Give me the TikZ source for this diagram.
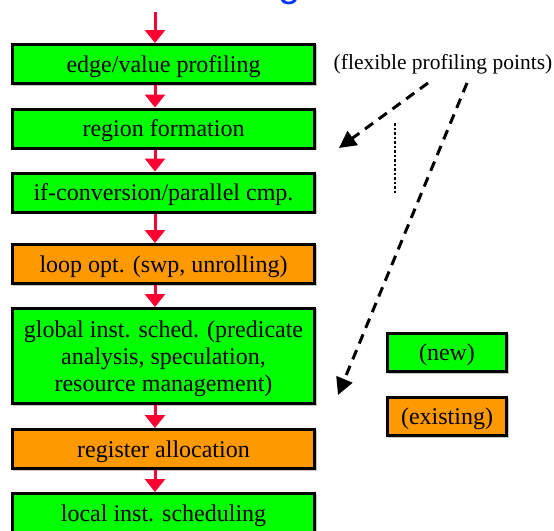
\documentclass[tikz,border=0pt]{standalone}
\usepackage{fontspec}
\setmainfont{Liberation Serif}
\newfontfamily\titlefont{Liberation Sans}
\usetikzlibrary{arrows.meta}
\definecolor{newgreen}{RGB}{0,255,0}
\definecolor{oldorange}{RGB}{255,153,0}
\definecolor{flowred}{RGB}{255,0,51}
\definecolor{titleblue}{RGB}{0,51,255}
\tikzset{
  stage/.style={draw=black, line width=3pt, rectangle, inner sep=0pt,
    minimum width=302pt, minimum height=39pt, align=center,
    text height=21pt, text depth=5pt,
    font=\fontsize{24}{27}\selectfont,
    preaction={draw=black!22, line width=1.5pt, transform canvas={shift={(1.5pt,-1.5pt)}}}},
  newstage/.style={stage, fill=newgreen},
  oldstage/.style={stage, fill=oldorange},
  legendbox/.style={stage, minimum width=119pt, minimum height=38pt},
  flow/.style={draw=flowred, line width=3pt, -{Triangle[length=13pt,width=20pt]}},
  profarrow/.style={draw=black, line width=3pt, dash pattern=on 10pt off 7pt,
    -{Triangle[length=17pt,width=17pt]}},
}
\begin{document}
\begin{tikzpicture}[x=1pt, y=-1pt]
\useasboundingbox (0,0) rectangle (554,530);
\clip (0,0) rectangle (554,530);

% tail of the slide title, cut by the top edge
\node[anchor=base, text=titleblue, font=\titlefont\fontsize{40}{40}\selectfont, inner sep=0pt]
  (titletail) at (290,-3.5) {g};

% compilation stages
\node[newstage] (prof)   at (163.5,64)    {edge/value profiling};
\node[newstage] (region) at (163.5,128.5) {region formation};
\node[newstage] (ifconv) at (163.5,192.5) {if-conversion/parallel cmp.};
\node[oldstage] (loop)   at (163.5,264)   {loop opt. (swp, unrolling)};
\node[newstage, minimum height=95pt, text height=75pt] (gis) at (163.5,356)
  {global inst. sched. (predicate\\analysis, speculation,\\resource management)};
\node[oldstage] (regalloc) at (163.5,449) {register allocation};
\node[newstage] (lis)    at (163.5,513)   {local inst. scheduling};

% flow arrows, slightly left of the box centres
\coordinate (fx) at (155,0);
\coordinate (entry) at (155,12);
\draw[flow] (entry) -- (prof.north -| fx);
\draw[flow] (prof.south -| fx) -- (region.north -| fx);
\draw[flow] (region.south -| fx) -- (ifconv.north -| fx);
\draw[flow] (ifconv.south -| fx) -- (loop.north -| fx);
\draw[flow] (loop.south -| fx) -- (gis.north -| fx);
\draw[flow] (gis.south -| fx) -- (regalloc.north -| fx);
\draw[flow] (regalloc.south -| fx) -- (lis.north -| fx);

% profiling points annotation
\node[font=\fontsize{21.5}{24}\selectfont, inner sep=0pt, anchor=base] (flex) at (443,69.5)
  {(flexible profiling points)};
\coordinate (p1s) at (428,83);
\coordinate (p1e) at (339,148);
\coordinate (p2s) at (467,83);
\coordinate (p2e) at (338,395);
\draw[profarrow] (p1s) -- (p1e);
\draw[profarrow] (p2s) -- (p2e);
\coordinate (dtop) at (395,123);
\coordinate (dbot) at (395,193);
\draw[line width=2.5pt, dash pattern=on 2.5pt off 2pt] (dtop) -- (dbot);

% legend
\node[legendbox, fill=newgreen] (lnew) at (447,352.5) {(new)};
\node[legendbox, fill=oldorange] (lold) at (447,416.5) {(existing)};
\end{tikzpicture}
\end{document}
